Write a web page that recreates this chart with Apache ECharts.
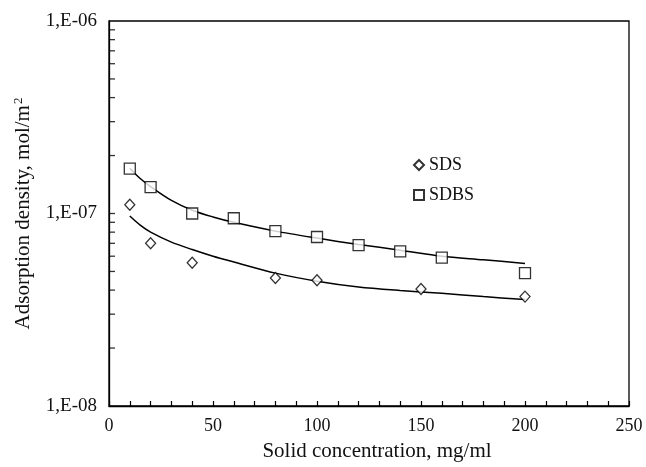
<!DOCTYPE html>
<html>
<head>
<meta charset="utf-8">
<script src="https://cdn.jsdelivr.net/npm/echarts@6/dist/echarts.min.js"></script>
<style>
html,body{margin:0;padding:0;background:#fff;}
#chart{width:646px;height:467px;}
</style>
</head>
<body>
<div id="chart"></div>
<script>
// ---- data ----
var sdsX = [10, 20, 40, 80, 100, 150, 200];
var sdsY = [1.11e-7, 7.0e-8, 5.55e-8, 4.62e-8, 4.5e-8, 4.05e-8, 3.7e-8];
var sdbsX = [10, 20, 40, 60, 80, 100, 120, 140, 160, 200];
var sdbsY = [1.71e-7, 1.37e-7, 1.0e-7, 9.45e-8, 8.1e-8, 7.55e-8, 6.85e-8, 6.35e-8, 5.9e-8, 4.9e-8];

// fitted curves
var fitX = [10, 15, 20, 30, 40, 50, 60, 80, 100, 120, 140, 160, 180, 200];
var sdsFitY = [9.7e-8, 8.7e-8, 8.0e-8, 7.1e-8, 6.5e-8, 6.0e-8, 5.6e-8, 4.9e-8, 4.45e-8, 4.15e-8, 3.98e-8, 3.85e-8, 3.7e-8, 3.57e-8];
var sdbsFitY = [1.72e-7, 1.52e-7, 1.38e-7, 1.17e-7, 1.04e-7, 9.6e-8, 9.0e-8, 8.1e-8, 7.45e-8, 6.9e-8, 6.45e-8, 6.0e-8, 5.75e-8, 5.5e-8];

var xTickLabels = ['0', '50', '100', '150', '200', '250'];
var yTickValues = [1e-8, 1e-7, 1e-6];
var yTickLabels = ['1,E-08', '1,E-07', '1,E-06'];
var seriesNames = ['SDS', 'SDBS'];

function zip(xs, ys) { return xs.map(function (x, i) { return [x, ys[i]]; }); }

// logarithmic tick positions on the y axis (2..9 in each decade, plus 1e-7)
var yTickMarks = [];
[1e-8, 1e-7].forEach(function (d) {
  for (var k = 2; k <= 9; k++) yTickMarks.push([0, +(k * d).toPrecision(3)]);
});
yTickMarks.push([0, 1e-7]);

var FONT = 'Liberation Serif';
var TXT = '#111';

var chart = echarts.init(document.getElementById('chart'), null, { renderer: 'canvas' });
chart.setOption({
  animation: false,
  backgroundColor: '#fff',
  grid: { left: 109, right: 17, top: 21, bottom: 55, show: true, borderColor: '#000', borderWidth: 1.3, backgroundColor: 'transparent' },
  legend: {
    orient: 'vertical', left: 408, top: 151,
    itemWidth: 10, itemHeight: 10, itemGap: 12, itemTextGap: 11,
    data: [
      { name: seriesNames[0], icon: 'diamond' },
      { name: seriesNames[1], icon: 'rect' }
    ],
    textStyle: { fontFamily: FONT, fontSize: 18, color: TXT }
  },
  xAxis: {
    type: 'value', min: 0, max: 250, interval: 50,
    name: 'Solid concentration, mg/ml', nameLocation: 'middle', nameGap: 35,
    nameTextStyle: { fontFamily: FONT, fontSize: 21, color: TXT, padding: [0, 0, 0, 16] },
    axisLine: { lineStyle: { color: '#000', width: 1.3 } },
    axisTick: { inside: true, length: 5, lineStyle: { color: '#000', width: 1.2 } },
    minorTick: { show: true, splitNumber: 5, length: 5, lineStyle: { color: '#000', width: 1.2 } },
    splitLine: { show: false },
    axisLabel: {
      margin: 11, fontFamily: FONT, fontSize: 18, color: TXT,
      formatter: function (v) { return xTickLabels[Math.round(v / 50)]; }
    }
  },
  yAxis: {
    type: 'log', logBase: 10, min: 1e-8, max: 1e-6,
    name: '{m|Adsorption density, mol/m}{s|2}', nameLocation: 'middle', nameGap: 74,
    nameTextStyle: {
      fontFamily: FONT, fontSize: 21, color: TXT,
      rich: {
        m: { fontFamily: FONT, fontSize: 21, color: TXT },
        s: { fontFamily: FONT, fontSize: 13, color: TXT, padding: [0, 0, 10, 1] }
      }
    },
    axisLine: { show: true, lineStyle: { color: '#000', width: 1.3 } },
    axisTick: { show: false },
    splitLine: { show: false },
    axisLabel: {
      margin: 12, fontFamily: FONT, fontSize: 19, color: TXT,
      customValues: yTickValues,
      formatter: function (v) {
        var e = Math.round(Math.log10(v));
        for (var i = 0; i < yTickValues.length; i++) {
          if (Math.round(Math.log10(yTickValues[i])) === e) return yTickLabels[i];
        }
        return '';
      }
    }
  },
  series: [
    {
      // tick marks of the logarithmic y axis, placed through the axis scale
      name: 'yTicks', type: 'scatter', data: yTickMarks, silent: true, clip: false, z: 4,
      symbol: 'rect', symbolSize: [6, 1.3], symbolOffset: [3, 0],
      itemStyle: { color: '#000', borderWidth: 0 }
    },
    {
      name: seriesNames[0] + ' fit', type: 'line', data: zip(fitX, sdsFitY), smooth: 0.3,
      showSymbol: false, symbol: 'none', lineStyle: { color: '#000', width: 1.5 }, z: 2, silent: true
    },
    {
      name: seriesNames[1] + ' fit', type: 'line', data: zip(fitX, sdbsFitY), smooth: 0.3,
      showSymbol: false, symbol: 'none', lineStyle: { color: '#000', width: 1.5 }, z: 2, silent: true
    },
    {
      name: seriesNames[0], type: 'scatter', data: zip(sdsX, sdsY), symbol: 'diamond', symbolSize: [10, 11],
      itemStyle: { color: '#fff', borderColor: '#000', borderWidth: 1.3 }, z: 3
    },
    {
      name: seriesNames[1], type: 'scatter', data: zip(sdbsX, sdbsY), symbol: 'rect', symbolSize: 11,
      itemStyle: { color: '#fff', borderColor: '#000', borderWidth: 1.3 }, z: 3
    }
  ]
});
</script>
</body>
</html>
